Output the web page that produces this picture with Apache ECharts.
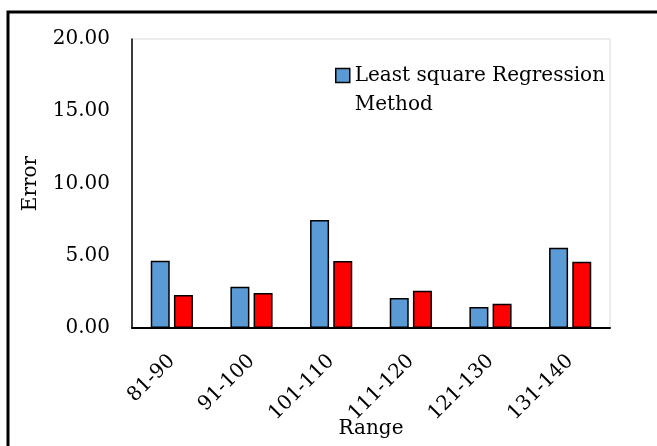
<!DOCTYPE html>
<html>
<head>
<meta charset="utf-8">
<script src="https://cdn.jsdelivr.net/npm/echarts@6/dist/echarts.min.js"></script>
<style>
html,body{margin:0;padding:0;background:#fff;}
#chart{width:657px;height:446px;}
</style>
</head>
<body>
<div id="chart"></div>
<script>
const categories = ['81-90', '91-100', '101-110', '111-120', '121-130', '131-140'];
const leastSquareValues = [4.65, 2.85, 7.48, 2.08, 1.46, 5.56];
const otherMethodValues = [2.29, 2.43, 4.63, 2.57, 1.67, 4.58];
const yTicks = { min: 0, max: 20, interval: 5 };
const seriesNames = ['Least square Regression Method', 'Other Method'];

const FONT = 'DejaVu Serif';
const chart = echarts.init(document.getElementById('chart'), null, { renderer: 'canvas' });
chart.setOption({
  animation: false,
  backgroundColor: '#fff',
  graphic: [{
    type: 'rect',
    shape: { x: 8, y: 12, width: 800, height: 600 },
    style: { fill: 'none', stroke: '#000', lineWidth: 3 },
    silent: true,
    z: 100
  }],
  grid: {
    left: 132, right: 47, top: 39, bottom: 118,
    outerBoundsMode: 'none',
    containLabel: false,
    show: true, borderColor: '#d9d9d9', borderWidth: 1, backgroundColor: 'transparent'
  },
  legend: {
    data: [seriesNames[0]],
    left: 330, top: 27,
    icon: 'rect',
    itemWidth: 14, itemHeight: 14, itemGap: 6,
    itemStyle: { borderColor: '#000', borderWidth: 1.5 },
    formatter: function (name) { return ' \n' + name.replace(' Method', '\nMethod'); },
    textStyle: { fontFamily: FONT, fontSize: 20, color: '#000', lineHeight: 29 }
  },
  xAxis: {
    type: 'category',
    data: categories,
    name: 'Range',
    nameLocation: 'middle',
    nameGap: 91,
    nameMoveOverlap: false,
    nameTextStyle: { fontFamily: FONT, fontSize: 20, color: '#000' },
    axisLine: { lineStyle: { color: '#000', width: 2 } },
    axisTick: { show: false },
    axisLabel: { rotate: 45, margin: 30, fontFamily: FONT, fontSize: 20, color: '#000', interval: 0 }
  },
  yAxis: {
    type: 'value',
    min: yTicks.min, max: yTicks.max, interval: yTicks.interval,
    name: 'Error',
    nameLocation: 'middle',
    nameGap: 91,
    nameMoveOverlap: false,
    nameTextStyle: { fontFamily: FONT, fontSize: 20, color: '#000' },
    axisLine: { show: true, lineStyle: { color: '#000', width: 1.5 } },
    axisTick: { show: false },
    splitLine: { show: false },
    axisLabel: { margin: 22, fontFamily: FONT, fontSize: 20, color: '#000',
      formatter: function (v) { return v.toFixed(2); } }
  },
  series: [
    {
      name: seriesNames[0], type: 'bar', data: leastSquareValues,
      barWidth: 19, barGap: '22%',
      itemStyle: { color: '#5b9bd5', borderColor: '#000', borderWidth: 1.5 }
    },
    {
      name: seriesNames[1], type: 'bar', data: otherMethodValues,
      barWidth: 19, barGap: '22%',
      itemStyle: { color: '#ff0000', borderColor: '#000', borderWidth: 1.5 }
    }
  ]
});
</script>
</body>
</html>
